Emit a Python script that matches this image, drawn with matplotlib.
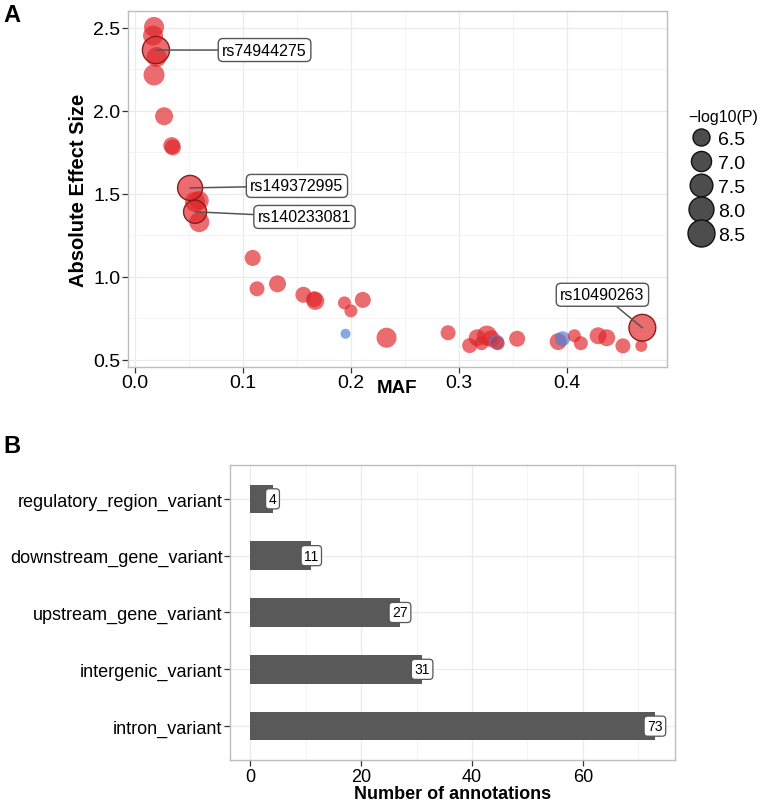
import numpy as np
import matplotlib
matplotlib.use("Agg")
import matplotlib.pyplot as plt
from matplotlib.lines import Line2D
from matplotlib.ticker import MultipleLocator

plt.rcParams['font.family'] = ['Liberation Sans', 'DejaVu Sans']

# ---- panel A data ----
maf = [0.0176, 0.0167, 0.0194, 0.0200, 0.0176, 0.0269, 0.0340, 0.0350,
       0.0510, 0.0556, 0.0595, 0.0556, 0.0595,
       0.109, 0.113, 0.132, 0.156, 0.167, 0.166, 0.194, 0.200, 0.211, 0.195,
       0.233, 0.290, 0.310, 0.317, 0.321, 0.326, 0.330, 0.335, 0.336, 0.354,
       0.392, 0.396, 0.407, 0.413, 0.429, 0.437, 0.452, 0.469, 0.470]
effect = [2.506, 2.454, 2.367, 2.325, 2.217, 1.968, 1.791, 1.780,
          1.536, 1.452, 1.460, 1.392, 1.330,
          1.114, 0.928, 0.958, 0.892, 0.855, 0.865, 0.843, 0.795, 0.861, 0.657,
          0.633, 0.663, 0.586, 0.633, 0.600, 0.646, 0.627, 0.607, 0.600, 0.627,
          0.610, 0.627, 0.645, 0.600, 0.645, 0.633, 0.584, 0.584, 0.693]
logp = [6.98, 6.98, 8.55, 6.98, 7.16, 6.64, 6.49, 6.36,
        8.01, 6.98, 6.80, 7.56, 6.98,
        6.36, 6.23, 6.49, 6.36, 6.64, 6.36, 6.01, 6.01, 6.36, 5.77,
        6.98, 6.23, 6.23, 6.49, 6.11, 6.98, 6.49, 6.23, 6.11, 6.36,
        6.49, 6.23, 6.01, 6.11, 6.49, 6.49, 6.23, 5.92, 8.45]
direction = ['+'] * 22 + ['-'] + ['+'] * 7 + ['-'] + ['+'] * 3 + ['-'] + ['+'] * 7
snp_labels = ['rs74944275', 'rs149372995', 'rs140233081', 'rs10490263']
snp_index = [2, 8, 11, 41]
legend_breaks = [6.5, 7.0, 7.5, 8.0, 8.5]

# ---- panel B data ----
consequence = ['intron_variant', 'intergenic_variant', 'upstream_gene_variant',
               'downstream_gene_variant', 'regulatory_region_variant']
n_annot = [73, 31, 27, 11, 4]


def diam_px(p):
    p = np.asarray(p, dtype=float)
    return 4.56 * (1 + 5 * np.sqrt(np.clip((p - 5.6) / 3.0, 0, None)))


def style_axes(ax):
    for s in ax.spines.values():
        s.set_color('#BDBDBD')
        s.set_linewidth(1.0)
    ax.set_axisbelow(True)
    ax.grid(which='major', color='#EBEBEB', lw=0.9)
    ax.grid(which='minor', color='#F3F3F3', lw=0.6)
    ax.tick_params(which='major', length=4, width=0.9, color='#333333', pad=1.5)
    ax.tick_params(which='minor', length=0)


fig = plt.figure(figsize=(7.62, 8.03), dpi=100)

# ---------------- panel A ----------------
ax = fig.add_axes([0.168, 0.542, 0.707, 0.443])
style_axes(ax)
cols = np.where(np.array(direction) == '-', '#4E7FD8', '#E0262B')
sizes = (diam_px(logp) * 0.72) ** 2
ax.scatter(maf, effect, s=sizes, c=cols, alpha=0.68, linewidths=0, zorder=3)

mx = np.array(maf)[snp_index]
my = np.array(effect)[snp_index]
ms = sizes[snp_index]
ax.scatter(mx, my, s=ms, facecolors='none', edgecolors='#8E1B1B',
           linewidths=1.0, zorder=4)

label_pos = [(0.120, 2.367), (0.150, 1.548), (0.157, 1.361), (0.433, 0.892)]
for lab, x, y, (tx, ty) in zip(snp_labels, mx, my, label_pos):
    ax.annotate(lab, xy=(x, y), xytext=(tx, ty), ha='center', va='center',
                fontsize=11.5, zorder=5,
                bbox=dict(boxstyle='round,pad=0.25,rounding_size=0.3',
                          fc='white', ec='#555555', lw=1.0),
                arrowprops=dict(arrowstyle='-', color='#555555', lw=1.1,
                                shrinkA=0, shrinkB=0))

ax.set_xlim(-0.0065, 0.4926)
ax.set_ylim(0.458, 2.602)
ax.xaxis.set_major_locator(MultipleLocator(0.1))
ax.xaxis.set_minor_locator(MultipleLocator(0.05))
ax.yaxis.set_major_locator(MultipleLocator(0.5))
ax.yaxis.set_minor_locator(MultipleLocator(0.25))
ax.tick_params(labelsize=14)
ax.set_xlabel('MAF', fontsize=13.5, fontweight='bold', labelpad=-9)
ax.set_ylabel('Absolute Effect Size', fontsize=14.5, fontweight='bold', labelpad=4)

handles = [Line2D([], [], ls='none', marker='o', markersize=float(diam_px(b)) * 0.72,
                  mfc='#4D4D4D', mec='#111111', mew=1.0)
           for b in legend_breaks]
leg = ax.legend(handles, ['%.1f' % b for b in legend_breaks], title='\u2212log10(P)',
                loc='center left', bbox_to_anchor=(1.04, 0.535), frameon=False,
                fontsize=14, title_fontsize=11.5, handletextpad=0.25,
                handlelength=1.3, labelspacing=0.33, borderaxespad=0.0,
                borderpad=0.0)
leg._legend_box.align = 'left'

fig.text(0.005, 0.995, 'A', fontsize=17, fontweight='bold', va='top')

# ---------------- panel B ----------------
bx = fig.add_axes([0.302, 0.052, 0.584, 0.368])
style_axes(bx)
ypos = np.arange(1, len(consequence) + 1)
bx.barh(ypos, n_annot, height=0.5, color='#595959', zorder=3)
for yv, v in zip(ypos, n_annot):
    bx.text(v, yv, str(v), ha='center', va='center', fontsize=10, zorder=4,
            bbox=dict(boxstyle='round,pad=0.22,rounding_size=0.25',
                      fc='white', ec='#555555', lw=0.9))
bx.set_yticks(ypos)
bx.set_yticklabels(consequence)
bx.set_xlim(-3.65, 76.65)
bx.set_ylim(0.4, 5.6)
bx.xaxis.set_major_locator(MultipleLocator(20))
bx.xaxis.set_minor_locator(MultipleLocator(10))
bx.tick_params(labelsize=13)
bx.set_xlabel('Number of annotations', fontsize=13, fontweight='bold', labelpad=0)

fig.text(0.005, 0.458, 'B', fontsize=17, fontweight='bold', va='top')

fig.savefig('out.png', dpi=100)
